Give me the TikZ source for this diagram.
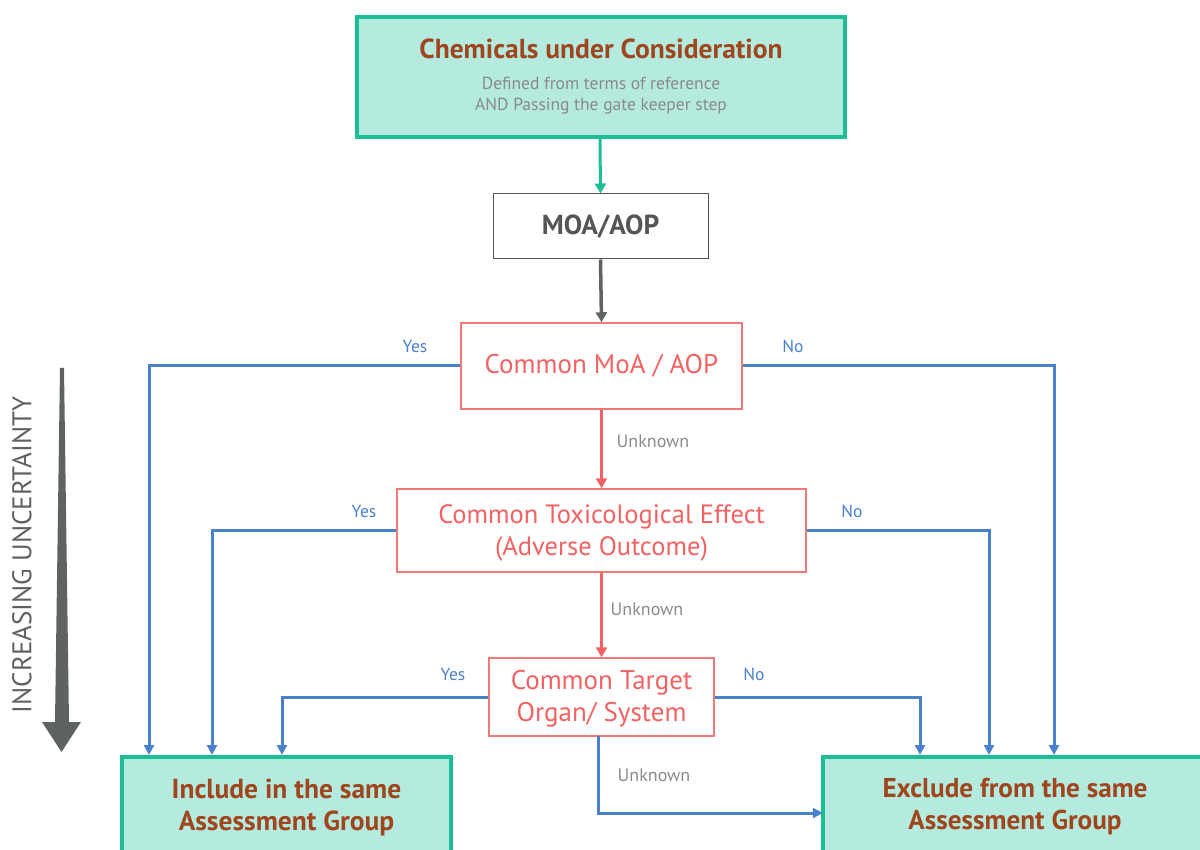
\documentclass[tikz,border=0pt]{standalone}
\usepackage{fontspec}
\setmainfont{PT Sans}
\usetikzlibrary{arrows.meta}
\definecolor{tealfill}{HTML}{B5EADF}
\definecolor{tealline}{HTML}{1DBE96}
\definecolor{brown}{HTML}{A0461E}
\definecolor{subgrey}{HTML}{8A8A8A}
\definecolor{darkgrey}{HTML}{555555}
\definecolor{redline}{HTML}{F27878}
\definecolor{redtext}{HTML}{F26262}
\definecolor{blueline}{HTML}{4A80CC}
\definecolor{arrowgrey}{HTML}{5F6262}
\tikzset{
  x=1pt,y=-1pt,
  tealbox/.style={draw=tealline,line width=4pt,fill=tealfill,inner sep=0pt},
  redbox/.style={draw=redline,line width=1.5pt,fill=white,inner sep=0pt},
  greybox/.style={draw=darkgrey,line width=1pt,fill=white,inner sep=0pt},
  blue/.style={draw=blueline,line width=3pt,-{Triangle[length=10pt,width=10pt]}},
  redarr/.style={draw=redtext,line width=3pt,-{Triangle[length=10pt,width=11pt]}},
  lbl/.style={font=\fontsize{17.5}{20}\selectfont,text=blueline},
  unk/.style={font=\fontsize{18}{20}\selectfont,text=subgrey},
}
\begin{document}
\begin{tikzpicture}
\useasboundingbox (0,0) rectangle (1200,850);
% boxes
\path[tealbox] (357,17) rectangle (845,137);
\node (top) at (601,77) [minimum width=488pt,minimum height=120pt] {};
\node[font=\fontsize{27.5}{32}\selectfont\bfseries,text=brown] (toptitle) at (601,49) {Chemicals under Consideration};
\node[font=\fontsize{17.5}{21}\selectfont,text=subgrey,align=center] (topsub) at (601,96) {Defined from terms of reference\\AND Passing the gate keeper step};

\node[greybox,minimum width=215pt,minimum height=65pt,font=\fontsize{27.5}{32}\selectfont\bfseries,text=darkgrey] (moa) at (600.5,226.5) {MOA/AOP};

\node[redbox,minimum width=281pt,minimum height=86pt,font=\fontsize{27}{32}\selectfont,text=redtext] (cmoa) at (601.5,366) {Common MoA / AOP};

\node[redbox,minimum width=409pt,minimum height=83pt,font=\fontsize{26.5}{32}\selectfont,text=redtext,align=center] (tox) at (601.5,530.5) {};
\node[font=\fontsize{26.5}{32}\selectfont,text=redtext,align=center] at (601.5,532.5) {Common Toxicological Effect\\(Adverse Outcome)};

\node[redbox,minimum width=225pt,minimum height=78pt] (target) at (601.5,697) {};
\node[font=\fontsize{27}{32}\selectfont,text=redtext,align=center] at (601.5,698.5) {Common Target\\Organ/ System};

\path[tealbox] (122,757) rectangle (451,860);
\node (incl) at (286.5,808) [minimum width=329pt,minimum height=102pt] {};
\node[font=\fontsize{27.5}{32}\selectfont\bfseries,text=brown,align=center] at (286.5,807) {Include in the same\\Assessment Group};

\path[tealbox] (823,757) rectangle (1210,860);
\node (excl) at (1016.5,808) [minimum width=387pt,minimum height=102pt] {};
\node[font=\fontsize{27.2}{32}\selectfont\bfseries,text=brown,align=center] at (1015,807) {Exclude from the same\\Assessment Group};

% vertical arrows
\draw[draw=tealline,line width=3pt,-{Triangle[length=10pt,width=11pt]}] (600,139) -- (moa.north);
\draw[draw=arrowgrey,line width=3.5pt,-{Triangle[length=10pt,width=11pt]}] (moa.south) -- (cmoa.north);
\draw[redarr] (cmoa.south) -- (tox.north);
\draw[redarr] (tox.south) -- (target.north);
\node[unk] at (653,441) {Unknown};
\node[unk] at (647,609) {Unknown};

% coordinates for arrow ends
\coordinate (i1) at (149,755);
\coordinate (i2) at (212,755);
\coordinate (i3) at (282,755);
\coordinate (e1) at (920,755);
\coordinate (e2) at (989,755);
\coordinate (e3) at (1054,755);

\draw[blue] (cmoa.west) -| (i1);
\draw[blue] (cmoa.east) -| (e3);
\draw[blue] (tox.west) -| (i2);
\draw[blue] (tox.east) -| (e2);
\draw[blue] (target.west) -| (i3);
\draw[blue] (target.east) -| (e1);
\draw[blue] (598,736) |- (excl.west |- 0,813);

\node[lbl] at (415,346) {Yes};
\node[lbl] at (793,346) {No};
\node[lbl] at (364,511) {Yes};
\node[lbl] at (852,511) {No};
\node[lbl] at (453,674) {Yes};
\node[lbl] at (754,674) {No};
\node[unk] at (654,775) {Unknown};

% uncertainty arrow
\fill[arrowgrey] (60,368) -- (64,368) -- (69,722) -- (81,722) -- (61.5,752) -- (42,722) -- (55,722) -- cycle;
\node[rotate=90,font=\fontsize{27}{30}\selectfont,text=arrowgrey] (unc) at (22,555) {INCREASING UNCERTAINTY};
\end{tikzpicture}
\end{document}
